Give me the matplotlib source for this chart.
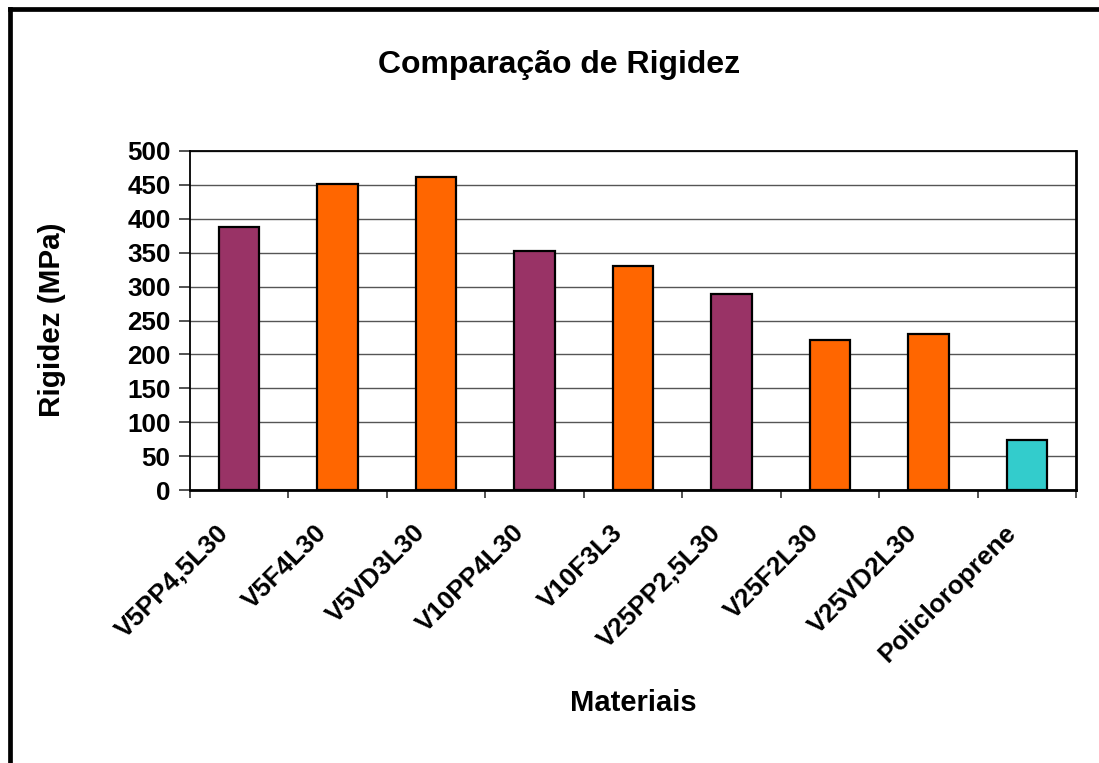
import numpy as np
import matplotlib
matplotlib.use("Agg")
from matplotlib import pyplot as plt
from matplotlib.lines import Line2D
from matplotlib.transforms import ScaledTranslation

plt.rcParams['font.family'] = ['Liberation Sans', 'DejaVu Sans']
plt.rcParams['font.weight'] = 'bold'

# data
materiais = ['V5PP4,5L30', 'V5F4L30', 'V5VD3L30', 'V10PP4L30', 'V10F3L3',
             'V25PP2,5L30', 'V25F2L30', 'V25VD2L30', 'Policloroprene']
rigidez = [388, 451, 461, 352, 330, 289, 221, 230, 74]
cores = ['#993366', '#FF6600', '#FF6600', '#993366', '#FF6600',
         '#993366', '#FF6600', '#FF6600', '#33CCCC']

W, H = 1099, 763
fig = plt.figure(figsize=(W / 100, H / 100), dpi=100)
ax = fig.add_axes([190 / W, 1 - 490 / H, (1076 - 190) / W, (490 - 151) / H])

x = np.arange(len(materiais))
ax.bar(x, rigidez, width=0.41, color=cores, edgecolor='black', linewidth=1.6, zorder=3)

ax.set_xlim(-0.5, len(materiais) - 0.5)
ax.set_ylim(0, 500)
ax.set_yticks(np.arange(0, 501, 50))
ax.yaxis.grid(True, color='#555555', linewidth=1.0, zorder=0)

# category boundary ticks on x axis, labels at centers
ax.set_xticks(np.arange(-0.5, len(materiais), 1.0))
ax.set_xticklabels([])
ax.set_xticks(x, minor=True)
ax.set_xticklabels(materiais, minor=True, rotation=45, ha='right',
                   rotation_mode='anchor', fontsize=18.8, fontweight='bold')
ax.tick_params(axis='x', which='major', direction='out', length=6, width=1.2, color='#333333')
ax.tick_params(axis='x', which='minor', length=0, pad=14)
ax.tick_params(axis='y', direction='out', length=8, width=1.2, color='#333333',
               labelsize=18.7, pad=6)
for lbl in ax.get_yticklabels():
    lbl.set_fontweight('bold')

# shift the rotated labels a bit left and down, like the original
shift = ScaledTranslation(-23 / 100, -11 / 100, fig.dpi_scale_trans)
for lbl in ax.get_xticklabels(minor=True):
    lbl.set_transform(lbl.get_transform() + shift)

for side in ['top', 'left']:
    ax.spines[side].set_linewidth(1.3)
for side in ['right', 'bottom']:
    ax.spines[side].set_linewidth(2.0)

fig.text(559.5 / W, 1 - 65 / H, 'Comparação de Rigidez', ha='center', va='center',
         fontsize=23, fontweight='bold')
fig.text(633 / W, 1 - 703 / H, 'Materiais', ha='center', va='center',
         fontsize=21, fontweight='bold')
fig.text(52 / W, 1 - 320 / H, 'Rigidez (MPa)', ha='center', va='center',
         rotation=90, fontsize=21.3, fontweight='bold')

# outer chart border (cropped on right and bottom)
fig.add_artist(Line2D([10 / W, 10 / W], [-0.05, 1 - 8.5 / H], color='black',
                      linewidth=3.4, transform=fig.transFigure, solid_capstyle='projecting'))
fig.add_artist(Line2D([10 / W, 1.05], [1 - 8.5 / H, 1 - 8.5 / H], color='black',
                      linewidth=3.4, transform=fig.transFigure, solid_capstyle='projecting'))

fig.savefig('out.png', dpi=100, facecolor='white')
